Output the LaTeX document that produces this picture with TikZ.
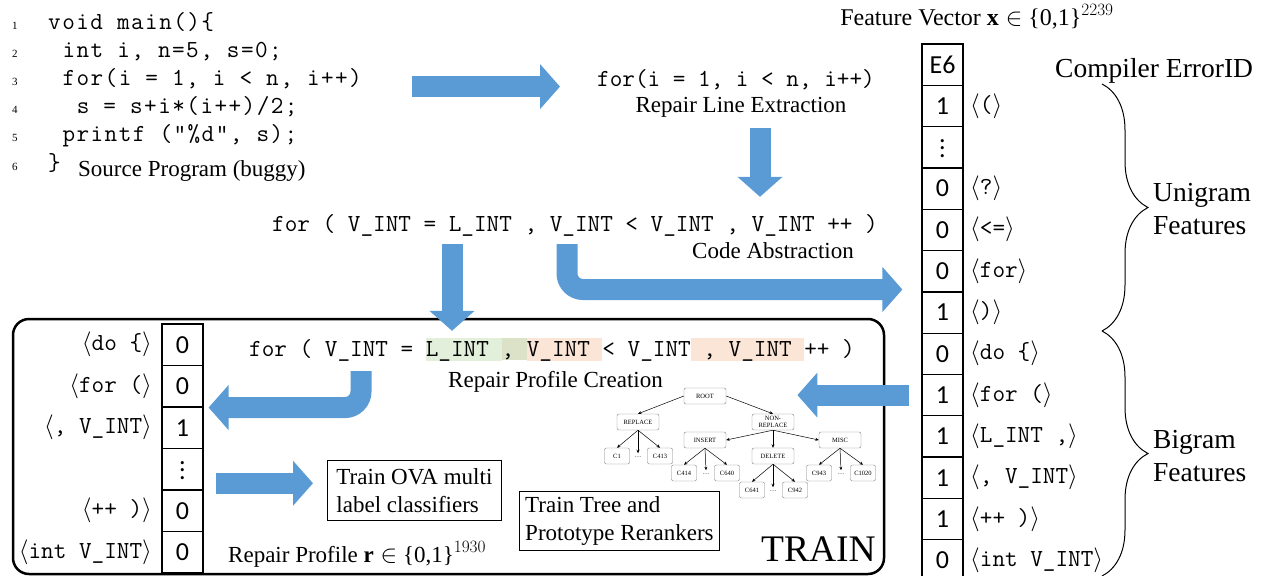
\documentclass[tikz,border=0pt]{standalone}
\usepackage{amsmath}
\usepackage{amssymb}
\usepackage{fontspec}
\setmainfont{Liberation Serif}
\setsansfont{Carlito}
\usepackage{tikz}
\usetikzlibrary{arrows.meta,calc,decorations.pathreplacing}

\definecolor{arrowblue}{HTML}{5B9BD5}
\definecolor{hlgreen}{HTML}{E2EFDA}
\definecolor{hlolive}{HTML}{DCE2C8}
\definecolor{hlpeach}{HTML}{FBE5D6}

\newcommand{\codesize}{\fontsize{24.5}{28}\selectfont\ttfamily}
\newcommand{\lstsize}{\codesize\XeTeXinterchartokenstate=1
  \XeTeXinterchartoks 0 0 = {\kern1.45pt\relax}\XeTeXinterchartoks 0 4095 = {\kern1.45pt\relax}}
\newcommand{\textsize}{\fontsize{23}{28}\selectfont}
\newcommand{\sidesize}{\fontsize{27.5}{33}\selectfont}
\newcommand{\numsize}{\fontsize{26}{30}\selectfont\sffamily}
\newcommand{\treesize}{\fontsize{6.5}{7}\selectfont}
\newcommand{\feat}[1]{$\langle$\texttt{#1}$\rangle$}
\newcommand{\hlbox}[2]{{\setlength{\fboxsep}{0pt}\colorbox{#1}{\rule[-4pt]{0pt}{22pt}#2}}}
\newcommand{\tallvdots}{\vbox{\baselineskip7.5pt\lineskiplimit0pt\kern2pt\hbox{.}\hbox{.}\hbox{.}}}

\tikzset{
  blockarrow/.style={draw=arrowblue, line width=21pt, -{Triangle[length=20pt,width=44pt]}},
  vecbox/.style={draw, line width=1.2pt, minimum width=41pt, minimum height=41.4pt, inner sep=0pt, font=\numsize},
  textlab/.style={inner sep=0pt, font=\textsize},
  treenode/.style={draw=gray, rounded corners=2pt, font=\treesize, inner sep=1pt, minimum height=16pt, align=center},
  innernode/.style={treenode, minimum width=42pt},
  leafnode/.style={treenode, minimum width=25pt},
  treeedge/.style={-{Stealth[length=3.5pt,width=3pt]}, line width=0.5pt}
}

\begin{document}
\begin{tikzpicture}[x=1pt,y=-1pt]
\useasboundingbox (0,0) rectangle (1262,576);

%draw source program
\foreach \n/\ind/\txt in {1/0/{void main()\{}, 2/1/{int i, n=5, s=0;}, 3/1/{for(i = 1, i < n, i++)},
  4/2/{s = s+i*(i++)/2;}, 5/1/{printf ("\%d", s);}, 6/0/{\}}}
{
  \node[anchor=base, inner sep=0pt, font=\fontsize{11}{13}\selectfont] (num\n) at (15,29+28.2*\n-28.2) {\n};
  \node[anchor=base west, inner sep=0pt, font=\lstsize] (code\n) at (48+14.3*\ind,29+28.2*\n-28.2) {\txt};
}
\node[textlab, anchor=base west] (srclab) at (78,176) {Source Program (buggy)};

%draw repair line and abstraction
\node[anchor=base west, inner sep=0pt, font=\codesize] (ext) at (597,86) {for(i = 1, i < n, i++)};
\node[textlab, anchor=base] (extlab) at (741,112) {Repair Line Extraction};
\node[anchor=base west, inner sep=0pt, font=\codesize] (abs) at (272,231) {for ( V\_INT = L\_INT , V\_INT < V\_INT , V\_INT ++ )};
\node[textlab, anchor=base] (abslab) at (773,258) {Code Abstraction};

%draw feature vector
\node[textlab, anchor=base, font=\fontsize{24}{28}\selectfont] (featlab) at (977,25) {Feature Vector $\mathbf{x}\in$ \{0,1\}$^{2239}$};
\foreach \v [count=\i from 0] in {E6,1,\tallvdots,0,0,0,1,0,1,1,1,1,0}
  \node[vecbox] (f\i) at (942.5,64.7+41.3*\i) {\v};
\foreach \i/\lab in {1/{\feat{(}}, 3/{\feat{?}}, 4/{\feat{<=}}, 5/{\feat{for}}, 6/{\feat{)}},
  7/{\feat{do \{}}, 8/{\feat{for (}}, 9/{\feat{L\_INT ,}}, 10/{\feat{, V\_INT}}, 11/{\feat{++ )}}, 12/{\feat{int V\_INT}}}
  \node[anchor=base west, inner sep=0pt, font=\codesize] (fl\i) at (970,70.7+41.3*\i) {\lab};

\node[anchor=base west, inner sep=0pt, font=\sidesize] (errlab) at (1055,77) {Compiler ErrorID};
\draw[decorate, decoration={brace, amplitude=46pt}, line width=1pt] (1102,84) -- (1102,331);
\draw[decorate, decoration={brace, amplitude=46pt}, line width=1pt] (1102,331) -- (1102,576);
\node[anchor=west, align=left, inner sep=0pt, font=\sidesize] (unilab) at (1153,209) {Unigram\\Features};
\node[anchor=west, align=left, inner sep=0pt, font=\sidesize] (bilab) at (1153,456) {Bigram\\Features};

%draw train box
\draw[line width=2.5pt, rounded corners=16pt] (13,319) rectangle (884,574);
\node[anchor=base west, inner sep=0pt, font=\codesize] (prof) at (249,356) {for ( V\_INT = \hlbox{hlgreen}{L\_INT~}\hlbox{hlolive}{,~}\hlbox{hlpeach}{V\_INT~}<~V\_INT\hlbox{hlpeach}{~,~V\_INT~}++~)};
\node[textlab, anchor=base west] (proflab) at (448,387) {Repair Profile Creation};

%draw repair profile
\foreach \v [count=\i from 0] in {0,0,1,\tallvdots,0,0}
  \node[vecbox] (r\i) at (182.5,344.75+41.5*\i) {\v};
\foreach \i/\lab in {0/{\feat{do \{}}, 1/{\feat{for (}}, 2/{\feat{, V\_INT}}, 4/{\feat{++ )}}, 5/{\feat{int V\_INT}}}
  \node[anchor=base east, inner sep=0pt, font=\codesize] (rl\i) at (152,350.75+41.5*\i) {\lab};
\node[textlab, anchor=base west] (rlab) at (228,562) {Repair Profile $\mathbf{r}\in$ \{0,1\}$^{1930}$};

\node[draw, line width=0.9pt, anchor=north west, align=left, inner xsep=4pt, minimum width=174pt, minimum height=60pt, font=\textsize] (ova) at (327,460) {Train OVA multi\\label classifiers};
\node[draw, line width=0.9pt, anchor=north west, align=left, inner xsep=5pt, minimum width=200pt, minimum height=59pt, font=\textsize] (rerank) at (519,491) {Train Tree and\\Prototype Rerankers};
\node[anchor=base east, inner sep=0pt, font=\fontsize{37.5}{40}\selectfont] (train) at (876,561) {TRAIN};

%draw class tree
\node[innernode] (root) at (705,396) {ROOT};
\node[innernode] (replace) at (638,422) {REPLACE};
\node[innernode] (nonrep) at (773,422) {NON-\\REPLACE};
\node[innernode] (insert) at (705,440) {INSERT};
\node[innernode] (delete) at (773,456) {DELETE};
\node[innernode] (misc) at (840,440) {MISC};
\foreach \nm/\lab/\x/\y in {c1/C1/617/456, c413/C413/660/456, c414/C414/684/473, c640/C640/727/473,
  c641/C641/752/490, c942/C942/795/490, c943/C943/819/473, c1020/C1020/863/473}
  \node[leafnode] (\nm) at (\x,\y) {\lab};
\foreach \nm/\x/\y in {d1/638/456, d2/706/473, d3/773/490, d4/841/473}
  \node[font=\treesize, inner sep=0.5pt, text height=4pt] (\nm) at (\x,\y) {\dots};

\draw[treeedge] (root.west) -- (replace.north);
\draw[treeedge] (root.east) -- (nonrep.north);
\draw[treeedge] (nonrep.south) -- (insert.east);
\draw[treeedge] (nonrep.south) -- (delete.north);
\draw[treeedge] (nonrep.south) -- (misc.west);
\foreach \p/\a/\b/\c in {replace/c1/d1/c413, insert/c414/d2/c640, delete/c641/d3/c942, misc/c943/d4/c1020}
{
  \draw[treeedge] (\p.south) -- (\a.north);
  \draw[treeedge] (\p.south) -- (\b.north);
  \draw[treeedge] (\p.south) -- (\c.north);
}

%draw block arrows
\draw[blockarrow] ($(code3.east)+(49,8)$) coordinate (a1) -- ($(ext.west |- a1)+(-37,0)$);
\draw[blockarrow] ($(extlab.south)+(19,11)$) coordinate (a2) -- ($(a2 |- abs.north)+(0,-17)$);
\draw[blockarrow] ($(abs.south west)+(180,8)$) coordinate (a3) -- ($(a3 |- prof.north)+(0,-7)$);
\draw[blockarrow, rounded corners=16pt] ($(abs.south west)+(295,8)$) |- ($(f5.south west)+(-19,-3)$);
\draw[blockarrow] ($(f8.west)+(-12,0)$) -- ++(-112,0);
\draw[blockarrow, rounded corners=16pt] ($(prof.south west)+(112,10)$) |- ($(r1.south east)+(5,0)$);
\draw[blockarrow] ($(r3.east)+(12,14)$) coordinate (a7) -- ($(a7 -| ova.west)+(-14,0)$);

\end{tikzpicture}
\end{document}
